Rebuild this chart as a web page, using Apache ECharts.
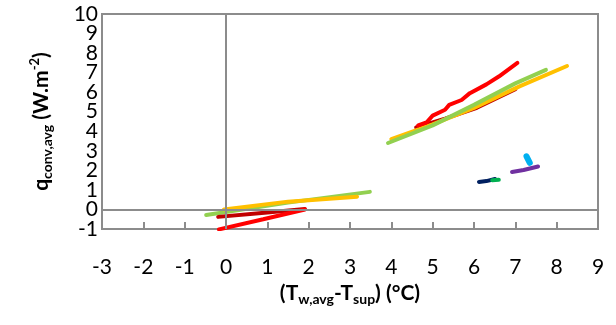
<!DOCTYPE html>
<html>
<head>
<meta charset="utf-8">
<script src="https://cdn.jsdelivr.net/npm/echarts@6/dist/echarts.min.js"></script>
<style>
  html, body { margin: 0; padding: 0; background: #fff; }
  #chart { width: 616px; height: 325px; }
</style>
</head>
<body>
<div id="chart"></div>
<script>
// ticks
const xTicks = [-3, -2, -1, 0, 1, 2, 3, 4, 5, 6, 7, 8, 9];
const yTicks = [-1, 0, 1, 2, 3, 4, 5, 6, 7, 8, 9, 10];

// series, [dT, q]
const greenLow = [[-0.48, -0.28], [1.5, 0.35], [3.48, 0.9]];
const orangeLow = [[-0.05, 0.0], [1.5, 0.4], [3.17, 0.65]];
const darkRedLow = [[-0.19, -0.38], [1.0, -0.15], [1.91, 0.02]];
const redLow = [[-0.17, -1.02], [0.9, -0.5], [1.91, 0.0]];

const darkRedHigh = [[4.6, 4.2], [5.3, 4.65], [6.07, 5.2], [7.0, 6.15]];
const orangeHigh = [[4.0, 3.6], [5.0, 4.35], [6.0, 5.2], [7.1, 6.3], [8.25, 7.34]];
const greenHigh = [[3.92, 3.4], [5.0, 4.3], [6.0, 5.35], [7.0, 6.45], [7.74, 7.14]];
const redHigh = [[4.65, 4.3], [4.85, 4.45], [5.0, 4.8], [5.3, 5.1], [5.4, 5.35], [5.7, 5.6],
  [5.9, 5.95], [6.3, 6.4], [6.6, 6.8], [7.05, 7.5]];

const navy = [[6.12, 1.41], [6.3, 1.45], [6.51, 1.56]];
const greenDark = [[6.44, 1.5], [6.6, 1.52]];
const purple = [[6.92, 1.92], [7.2, 2.02], [7.55, 2.2]];
const lightBlue = [[7.27, 2.72], [7.35, 2.38]];

const axisGray = '#8c8c8c';
const font = 'Lato, "Liberation Sans", sans-serif';

function line(data, color, width) {
  return {
    type: 'line', data: data, showSymbol: false, smooth: false,
    lineStyle: { color: color, width: width || 4, cap: 'round' },
    silent: true, z: 3
  };
}

const series = [
  {
    type: 'line', data: [], silent: true,
    markLine: {
      symbol: 'none', silent: true, label: { show: false },
      lineStyle: { color: axisGray, width: 2, type: 'solid' },
      data: [{ xAxis: 0 }, { yAxis: 0 }]
    }
  },
  line(greenLow, '#92d050'),
  line(orangeLow, '#ffc000'),
  line(darkRedLow, '#c00000'),
  line(redLow, '#ff0000'),
  line(darkRedHigh, '#c00000'),
  line(orangeHigh, '#ffc000'),
  line(redHigh, '#ff0000'),
  line(greenHigh, '#92d050'),
  line(navy, '#002060'),
  line(greenDark, '#00b050'),
  line(purple, '#7030a0'),
  line(lightBlue, '#00b0f0', 6)
];

const chart = echarts.init(document.getElementById('chart'));
chart.setOption({
  animation: false,
  grid: {
    left: 102, right: 18, top: 14, bottom: 96,
    show: true, borderColor: axisGray, borderWidth: 2
  },
  xAxis: {
    type: 'value', min: xTicks[0], max: xTicks[xTicks.length - 1], interval: 1,
    splitLine: { show: false },
    axisLine: { show: true, onZero: false, lineStyle: { color: axisGray, width: 2 } },
    axisTick: { show: true, inside: true, length: 7, lineStyle: { color: axisGray, width: 2 } },
    axisLabel: { margin: 28, color: '#000', fontSize: 21, fontFamily: font, showMinLabel: true, showMaxLabel: true },
    name: '(T{sub|w,avg}-T{sub|sup}) (°C)',
    nameLocation: 'middle', nameGap: 46,
    nameTextStyle: {
      color: '#000', fontSize: 21, fontWeight: 'bold', fontFamily: font,
      rich: { sub: { fontSize: 14, fontWeight: 'bold', fontFamily: font, verticalAlign: 'bottom', padding: [12, 0, 0, 0] } }
    }
  },
  yAxis: [{
    type: 'value', min: yTicks[0], max: yTicks[yTicks.length - 1], interval: 1,
    splitLine: { show: false },
    axisLine: { show: true, onZero: false, lineStyle: { color: axisGray, width: 2 } },
    axisTick: { show: false },
    axisLabel: { show: false },
    name: 'q{sub|conv,avg} (W.m{sup|-2})',
    nameLocation: 'middle', nameGap: 48,
    nameTextStyle: {
      color: '#000', fontSize: 21, fontWeight: 'bold', fontFamily: font,
      rich: {
        sub: { fontSize: 14, fontWeight: 'bold', fontFamily: font, verticalAlign: 'bottom', padding: [12, 0, 0, 0] },
        sup: { fontSize: 13, fontWeight: 'bold', fontFamily: font, verticalAlign: 'top', padding: [0, 0, 10, 0] }
      }
    }
  }, {
    // tick labels only, one per value, so none get dropped
    type: 'category', data: yTicks.map(String), boundaryGap: false, position: 'left',
    axisLine: { show: false }, axisTick: { show: false }, splitLine: { show: false },
    axisLabel: { interval: 0, margin: 4, color: '#000', fontSize: 21, fontFamily: font }
  }],
  series: series
});
</script>
</body>
</html>
